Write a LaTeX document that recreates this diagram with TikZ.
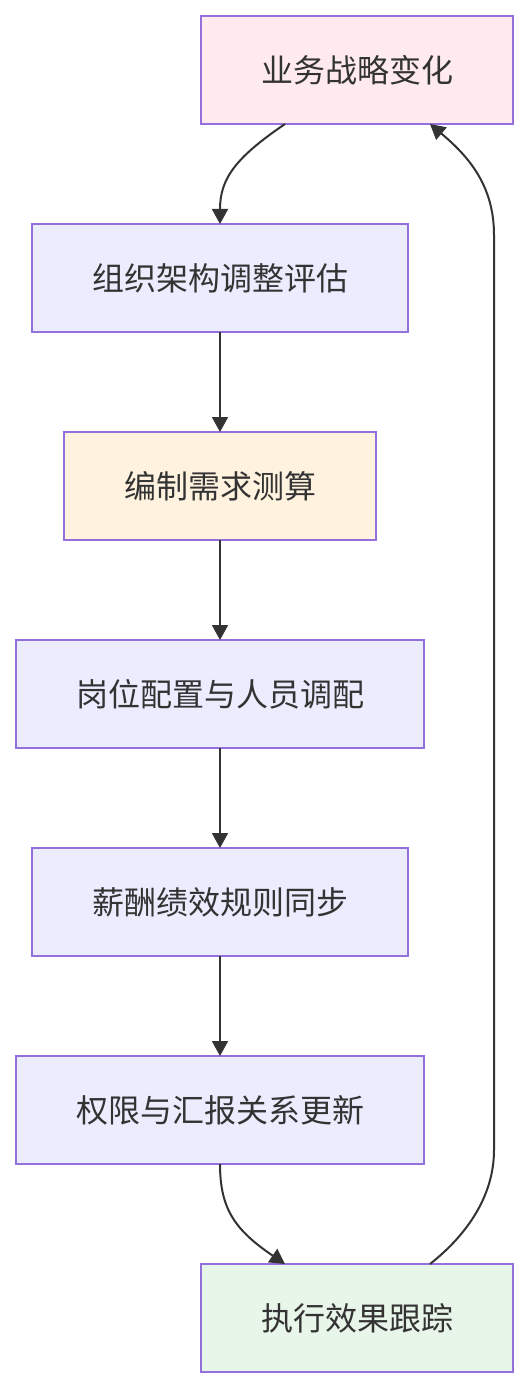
\documentclass[tikz,border=0pt]{standalone}
\usepackage{fontspec}
\newfontfamily\cjk{Noto Sans CJK SC}
\usetikzlibrary{positioning, arrows.meta}
\definecolor{borde}{HTML}{9370DB}
\definecolor{lila}{HTML}{ECECFF}
\definecolor{rosa}{HTML}{FFEBEE}
\definecolor{naranja}{HTML}{FFF3E0}
\definecolor{verde}{HTML}{E8F5E9}
\definecolor{texto}{HTML}{333333}

\begin{document}
\begin{tikzpicture}[
        x=1pt, y=-1pt,
        node distance=100pt,
        box/.style={rectangle, draw=borde, line width=2pt, fill=lila, minimum height=108pt, inner xsep=60pt, outer sep=0pt, align=center, text=texto, font=\cjk\fontsize{32pt}{38pt}\selectfont},
        flecha/.style={-{Triangle[length=15pt, width=16pt]}, line width=2pt, texto}
    ]
    \useasboundingbox (0,0) rectangle (529,1388);

    % NODOS
    \node[box, fill=rosa] (cambio) at (357,70) {业务战略变化};
    \node[box] (evalua) at (220,278) {组织架构调整评估};
    \node[box, fill=naranja, below=of evalua] (calculo) {编制需求测算};
    \node[box, below=of calculo] (puesto) {岗位配置与人员调配};
    \node[box, below=of puesto] (salario) {薪酬绩效规则同步};
    \node[box, below=of salario] (permiso) {权限与汇报关系更新};
    \node[box, fill=verde] (segui) at (357,1318) {执行效果跟踪};

    % Puntos del retorno
    \coordinate (ret1) at (494,1150);
    \coordinate (ret2) at (494,235);

    % Flechas de conexión
    \draw[flecha] ([xshift=-72pt]cambio.south) .. controls +(-50,34) and +(0,-45) .. (evalua.north);
    \draw[flecha] (evalua) -- (calculo);
    \draw[flecha] (calculo) -- (puesto);
    \draw[flecha] (puesto) -- (salario);
    \draw[flecha] (salario) -- (permiso);
    \draw[flecha] (permiso.south) .. controls +(0,45) and +(-50,-34) .. ([xshift=-72pt]segui.north);
    \draw[flecha] ([xshift=73pt]segui.north) .. controls +(38,-30) and +(0,45) .. (ret1) -- (ret2) .. controls +(0,-50) and +(38,32) .. ([xshift=73pt]cambio.south);
\end{tikzpicture}
\end{document}
